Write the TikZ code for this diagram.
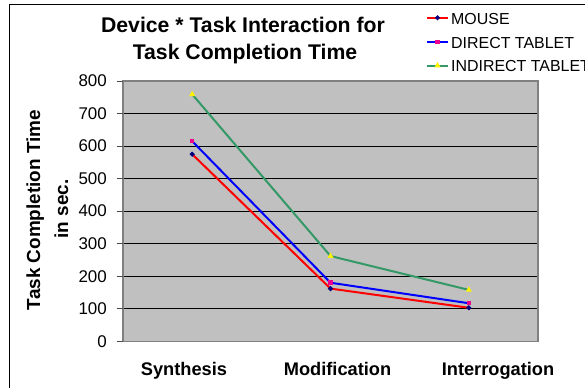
\documentclass[tikz,border=0pt]{standalone}
\usepackage{fontspec}
\setmainfont{Liberation Sans}
\usetikzlibrary{shapes.geometric}
\definecolor{plotgrey}{HTML}{C0C0C0}
\definecolor{framegrey}{HTML}{808080}
\definecolor{seagreen}{HTML}{339966}
\definecolor{navymark}{HTML}{000080}
\tikzset{
  ticklab/.style={font=\fontsize{17}{20}\selectfont, anchor=east, inner sep=0pt},
  catlab/.style={font=\bfseries\fontsize{18.3}{22}\selectfont, anchor=base, inner sep=0pt},
  titlelab/.style={font=\bfseries\fontsize{21.3}{27}\selectfont, anchor=base, inner sep=0pt},
  axlab/.style={font=\bfseries\fontsize{19}{22}\selectfont, anchor=base, inner sep=0pt, rotate=90},
  leglab/.style={font=\fontsize{16}{19}\selectfont, anchor=base west, inner sep=0pt},
  mouseline/.style={red, line width=2bp, line join=round},
  directline/.style={blue, line width=2bp, line join=round},
  indirectline/.style={seagreen, line width=2bp, line join=round},
  mousemark/.style={diamond, fill=navymark, inner sep=0pt, minimum size=5.5bp},
  directmark/.style={rectangle, fill=magenta, inner sep=0pt, minimum size=4.5bp},
  indirectmark/.style={regular polygon, regular polygon sides=3, fill=yellow, inner sep=0pt, minimum size=7bp},
  gridline/.style={black, line width=0.8bp},
}
\begin{document}
\begin{tikzpicture}[x=1bp, y=1bp]
\useasboundingbox (0,0) rectangle (585,387);
% white page and outer chart frame
\fill[white] (0,0) rectangle (585,387);
\draw[black, line width=1bp] (9,-20) -- (9,382.7) -- (620,382.7);

% title
\node[titlelab] (title1) at (243,354.7) {Device * Task Interaction for};
\node[titlelab] (title2) at (245,327.7) {Task Completion Time};

% value axis title
\node[axlab] (ytitle1) at (40,177) {Task Completion Time};
\node[axlab] (ytitle2) at (68,178) {in sec.};

% category labels
\node[catlab] (catsyn) at (184,12) {Synthesis};
\node[catlab] (catmod) at (337.5,12) {Modification};
\node[catlab] (catint) at (498,12) {Interrogation};

% plot area in data units
\begin{scope}[shift={(123,45.7)}, y=0.3254bp]
  \fill[plotgrey] (0,0) rectangle (415,800);
  \foreach \v in {100,200,...,700}
    \draw[gridline] (0,\v) -- (415,\v);
  \draw[framegrey, line width=1.3bp] (0,0) rectangle (415,800);
  \foreach \v in {0,100,...,800} {
    \draw[black!70, line width=0.8bp] (-6.3,\v) -- (0,\v);
    \node[ticklab] (tick\v) at (-16,\v) {\v};
  }
  % data points
  \coordinate (m1) at (69.2,575);
  \coordinate (m2) at (207.5,162);
  \coordinate (m3) at (345.8,103);
  \coordinate (d1) at (69.2,615);
  \coordinate (d2) at (207.5,180);
  \coordinate (d3) at (345.8,117);
  \coordinate (i1) at (69.2,759);
  \coordinate (i2) at (207.5,262);
  \coordinate (i3) at (345.8,158);
  % series
  \draw[mouseline] (m1) -- (m2) -- (m3);
  \foreach \p in {m1,m2,m3} \node[mousemark] (mk\p) at (\p) {};
  \draw[directline] (d1) -- (d2) -- (d3);
  \foreach \p in {d1,d2,d3} \node[directmark] (mk\p) at (\p) {};
  \draw[indirectline] (i1) -- (i2) -- (i3);
  \foreach \p in {i1,i2,i3} \node[indirectmark] (mk\p) at (\p) {};
\end{scope}

% legend
\coordinate (lgm0) at (427,369.2);
\coordinate (lgm1) at (448,369.2);
\coordinate (lgd0) at (427,345);
\coordinate (lgd1) at (448,345);
\coordinate (lgi0) at (427,321.5);
\coordinate (lgi1) at (448,321.5);
\draw[mouseline] (lgm0) -- (lgm1);
\node[mousemark] (lgmk1) at (437.5,369.2) {};
\draw[directline] (lgd0) -- (lgd1);
\node[directmark] (lgmk2) at (437.5,345) {};
\draw[indirectline] (lgi0) -- (lgi1);
\node[indirectmark] (lgmk3) at (437.5,321.5) {};
\node[leglab] (leg1) at (451,363) {MOUSE};
\node[leglab] (leg2) at (451,338.7) {DIRECT TABLET};
\node[leglab] (leg3) at (451,315.3) {INDIRECT TABLET};
\end{tikzpicture}
\end{document}
